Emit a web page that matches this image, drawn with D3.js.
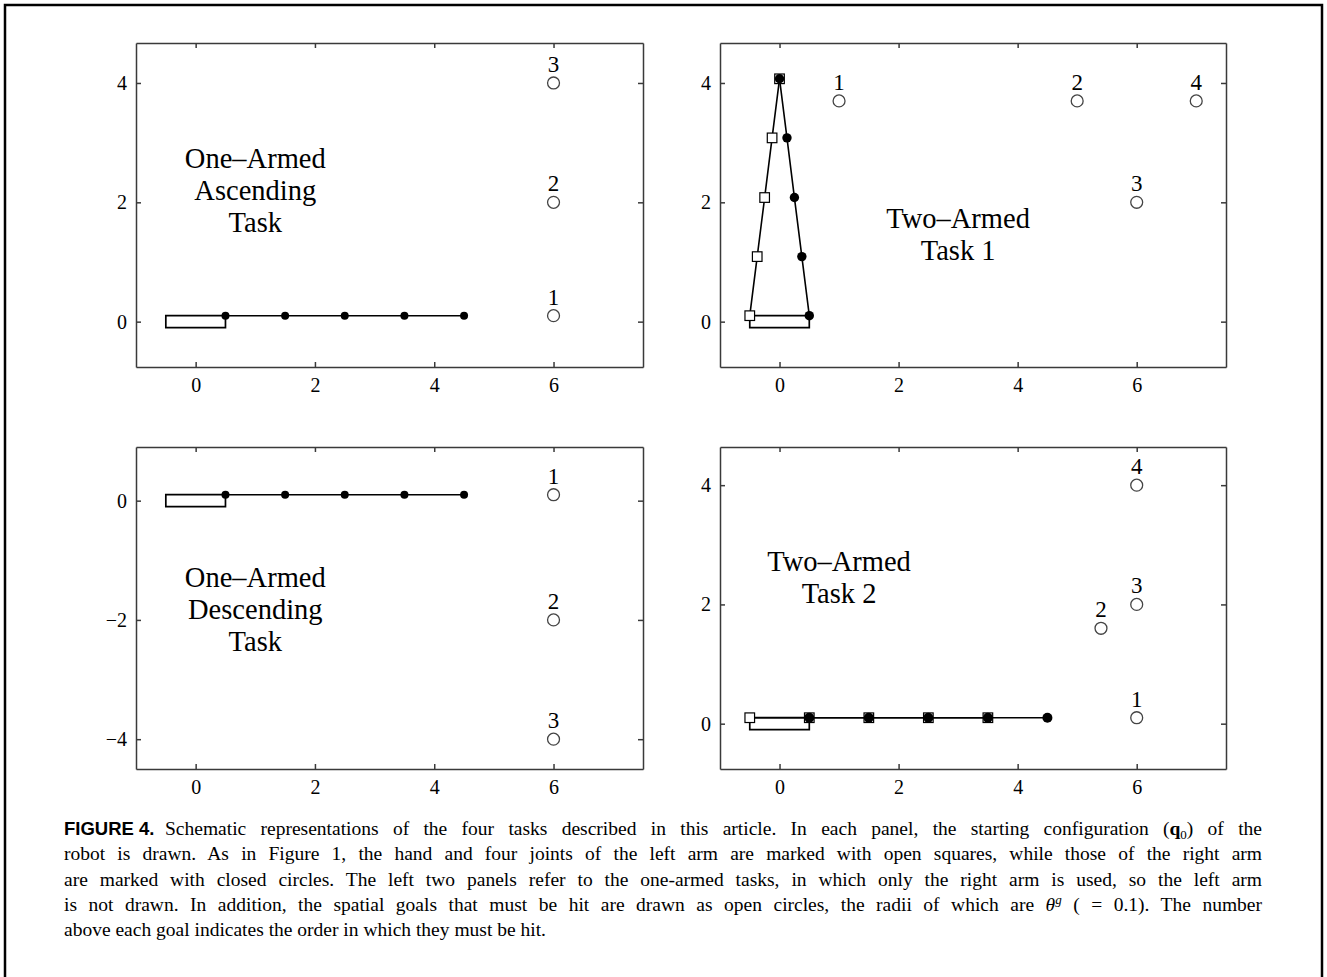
<html>
<head>
  <meta charset='utf-8' />
  <style>
    body { margin: 0; padding: 0; background: white; }
    text { font-family: 'Liberation Serif', 'Times New Roman', serif; fill: black; }
  </style>
</head>

<body>
  <svg width='1327' height='977' style='background-color: white'></svg>
</body>

<script src="https://d3js.org/d3.v7.min.js"></script>

<script>
///////////////////
/// Data
///////////////////

  xTicks = [0, 2, 4, 6];
  yTicksUp = [0, 2, 4];
  yTicksDown = [-4, -2, 0];

  // robot body, closed outline
  bodyOutline = [[-0.5, 0.1], [-0.5, -0.1], [0.5, -0.1], [0.5, 0.1]];

  // arm joints, shoulder first, hand last
  rightArmFlat = [[0.5, 0.1], [1.5, 0.1], [2.5, 0.1], [3.5, 0.1], [4.5, 0.1]];
  leftArmFlat = [[-0.5, 0.1], [0.5, 0.1], [1.5, 0.1], [2.5, 0.1], [3.5, 0.1]];
  leftArmUp = [[-0.5, 0.1], [-0.375, 1.09], [-0.25, 2.08], [-0.125, 3.08], [0, 4.07]];
  rightArmUp = [[0.5, 0.1], [0.375, 1.09], [0.25, 2.08], [0.125, 3.08], [0, 4.07]];

  // spatial goals, in the order they must be hit
  goalsAscending = [[6, 0.1], [6, 2], [6, 4]];
  goalsDescending = [[6, 0.1], [6, -2], [6, -4]];
  goalsTask1 = [[1, 3.7], [5, 3.7], [6, 2], [7, 3.7]];
  goalsTask2 = [[6, 0.1], [5.4, 1.6], [6, 2], [6, 4]];

  goalRadius = 0.1;

  captionLabel = 'FIGURE 4.';
  captionLines = [
    [{t: 'Schematic representations of the four tasks described in this article. In each panel, the starting configuration ('},
     {t: 'q', bold: true}, {t: '0', sub: true}, {t: ') of the'}],
    [{t: 'robot is drawn. As in Figure 1, the hand and four joints of the left arm are marked with open squares, while those of the right arm'}],
    [{t: 'are marked with closed circles. The left two panels refer to the one-armed tasks, in which only the right arm is used, so the left arm'}],
    [{t: 'is not drawn. In addition, the spatial goals that must be hit are drawn as open circles, the radii of which are '},
     {t: '\u03b8', italic: true}, {t: 'g', italic: true, sup: true}, {t: ' (\u00a0= 0.1). The number'}],
    [{t: 'above each goal indicates the order in which they must be hit.'}]
  ];

  panels = [
    {left: 136, top: 43, width: 507, height: 324, yDomain: [-0.76, 4.67], yTicks: yTicksUp,
     leftArm: null, rightArm: rightArmFlat, goals: goalsAscending, jointR: 4,
     title: ['One\u2013Armed', 'Ascending', 'Task'], titleAt: [1, 2.58]},
    {left: 720, top: 43, width: 506, height: 324, yDomain: [-0.76, 4.67], yTicks: yTicksUp,
     leftArm: leftArmUp, rightArm: rightArmUp, goals: goalsTask1, jointR: 4.7,
     title: ['Two\u2013Armed', 'Task 1'], titleAt: [3, 1.57]},
    {left: 136, top: 447, width: 507, height: 322, yDomain: [-4.5, 0.9], yTicks: yTicksDown,
     leftArm: null, rightArm: rightArmFlat, goals: goalsDescending, jointR: 4,
     title: ['One\u2013Armed', 'Descending', 'Task'], titleAt: [1, -1.44]},
    {left: 720, top: 447, width: 506, height: 322, yDomain: [-0.76, 4.64], yTicks: yTicksUp,
     leftArm: leftArmFlat, rightArm: rightArmFlat, goals: goalsTask2, jointR: 5,
     title: ['Two\u2013Armed', 'Task 2'], titleAt: [1, 2.56]}
  ];

  svg = d3.select('svg');

///////////////////
/// Outer frame
///////////////////

  svg.append('rect')
    .attr('x', 5)
    .attr('y', 5)
    .attr('width', 1317)
    .attr('height', 1000)
    .attr('fill', 'none')
    .attr('stroke', 'black')
    .attr('stroke-width', 2.5);

///////////////////
/// Panels
///////////////////

  panels.forEach(p => {
    g = svg.append('g');

    x = d3.scaleLinear()
      .domain([-1, 7.5])
      .range([p.left, p.left + p.width]);

    y = d3.scaleLinear()
      .domain(p.yDomain)
      .range([p.top + p.height, p.top]);

    // box with inward ticks on all four sides
    axes = [
      g.append('g').attr('transform', `translate(0, ${p.top + p.height})`)
        .call(d3.axisBottom(x).tickValues(xTicks).tickSizeInner(-5).tickSizeOuter(0).tickPadding(11)),
      g.append('g').attr('transform', `translate(0, ${p.top})`)
        .call(d3.axisTop(x).tickValues(xTicks).tickSizeInner(-5).tickSizeOuter(0).tickFormat('')),
      g.append('g').attr('transform', `translate(${p.left}, 0)`)
        .call(d3.axisLeft(y).tickValues(p.yTicks).tickSizeInner(-5).tickSizeOuter(0).tickPadding(9)
          .tickFormat(d => d < 0 ? '\u2212' + (-d) : d)),
      g.append('g').attr('transform', `translate(${p.left + p.width}, 0)`)
        .call(d3.axisRight(y).tickValues(p.yTicks).tickSizeInner(-5).tickSizeOuter(0).tickFormat(''))
    ];
    axes.forEach(a => {
      a.attr('font-family', null).attr('font-size', null);
      a.selectAll('path, line').attr('stroke', '#3a3a3a').attr('stroke-width', 1.5);
      a.selectAll('text').style('font-size', '20px');
    });

    line = d3.line()
      .x(d => x(d[0]))
      .y(d => y(d[1]));

    // body
    g.append('path')
      .datum(bodyOutline)
      .attr('d', d3.line().x(d => x(d[0])).y(d => y(d[1])).curve(d3.curveLinearClosed))
      .attr('fill', 'none')
      .attr('stroke', 'black')
      .attr('stroke-width', 1.7);

    // left arm: open squares
    if (p.leftArm) {
      g.append('path')
        .datum(p.leftArm)
        .attr('d', line)
        .attr('fill', 'none')
        .attr('stroke', 'black')
        .attr('stroke-width', 1.6);

      g.selectAll('.sq')
        .data(p.leftArm)
        .enter().append('rect')
        .attr('class', 'sq')
        .attr('x', d => x(d[0]) - 4.8)
        .attr('y', d => y(d[1]) - 4.8)
        .attr('width', 9.6)
        .attr('height', 9.6)
        .style('fill', 'white')
        .style('stroke', 'black')
        .style('stroke-width', 1.2);
    }

    // right arm: closed circles
    g.append('path')
      .datum(p.rightArm)
      .attr('d', line)
      .attr('fill', 'none')
      .attr('stroke', 'black')
      .attr('stroke-width', 1.6);

    g.selectAll('.joint')
      .data(p.rightArm)
      .enter().append('circle')
      .attr('class', 'joint')
      .attr('cx', d => x(d[0]))
      .attr('cy', d => y(d[1]))
      .attr('r', p.jointR)
      .style('fill', 'black');

    // goals with order numbers
    g.selectAll('.goal')
      .data(p.goals)
      .enter().append('circle')
      .attr('class', 'goal')
      .attr('cx', d => x(d[0]))
      .attr('cy', d => y(d[1]))
      .attr('r', x(goalRadius) - x(0))
      .style('fill', 'none')
      .style('stroke', '#444')
      .style('stroke-width', 1.3);

    g.selectAll('.order')
      .data(p.goals)
      .enter().append('text')
      .attr('class', 'order')
      .attr('x', d => x(d[0]))
      .attr('y', d => y(d[1]) - 11)
      .attr('text-anchor', 'middle')
      .style('font-size', '23px')
      .text((d, i) => i + 1);

    // panel title
    g.selectAll('.title')
      .data(p.title)
      .enter().append('text')
      .attr('class', 'title')
      .attr('x', x(p.titleAt[0]))
      .attr('y', (d, i) => y(p.titleAt[1]) + i * 32)
      .attr('text-anchor', 'middle')
      .style('font-size', '28.5px')
      .text(d => d);
  });

///////////////////
/// Caption
///////////////////

  svg.append('text')
    .attr('x', 64)
    .attr('y', 835)
    .style('font-family', "'Liberation Sans', Arial, sans-serif")
    .style('font-weight', 'bold')
    .style('font-size', '18.5px')
    .text(captionLabel);

  captionLines.forEach((segs, i) => {
    left = i == 0 ? 165 : 64;
    t = svg.append('text')
      .attr('x', left)
      .attr('y', 835 + i * 25.3)
      .style('font-size', '19.5px');

    // shift back to the baseline on the segment after a sub or sup
    shift = 0;
    segs.forEach(s => {
      ts = t.append('tspan').text(s.t);
      if (s.bold) ts.style('font-weight', 'bold');
      if (s.italic) ts.style('font-style', 'italic');
      d = s.sub ? 4 : s.sup ? -7 : 0;
      if (s.sub || s.sup) ts.style('font-size', '13px');
      if (d - shift != 0) ts.attr('dy', d - shift);
      shift = d;
    });

    // justify all but the last line
    if (i < captionLines.length - 1) {
      natural = t.node().getComputedTextLength();
      spaces = segs.map(s => s.t).join('').split(/[ \u00a0]/).length - 1;
      t.style('word-spacing', ((1262 - left - natural) / spaces) + 'px');
    }
  });

</script>
</html>
